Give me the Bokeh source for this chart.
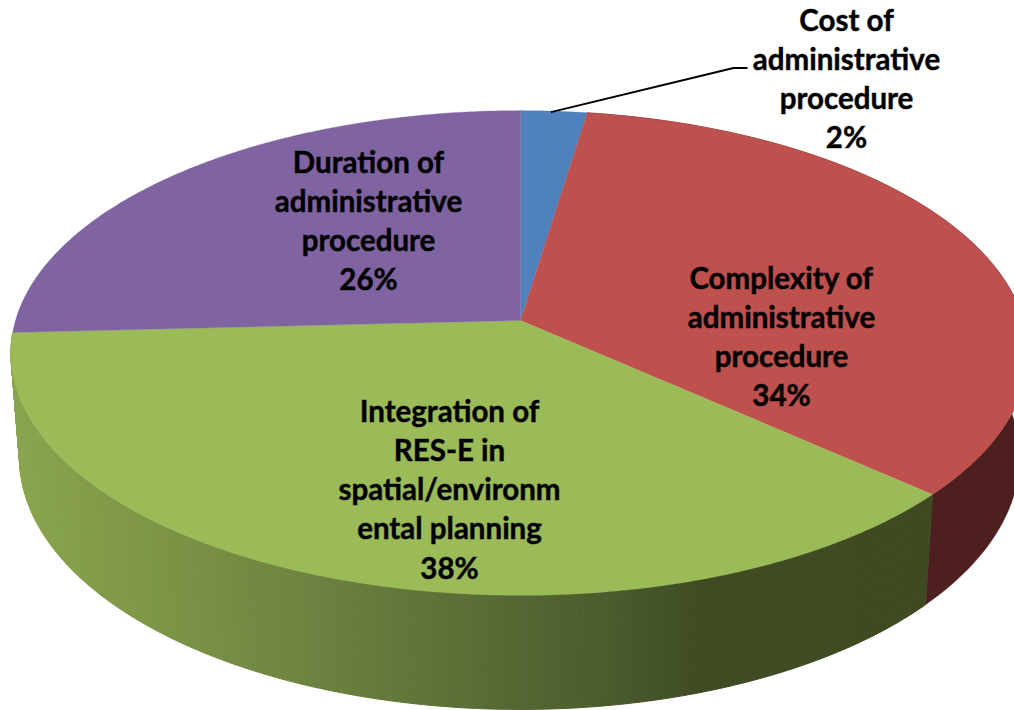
from bokeh.plotting import figure
from bokeh.models import Range1d
from bokeh.core.properties import value
from bokeh.embed import file_html
from bokeh.resources import INLINE
import numpy as np

# slice shares (geometry), and their printed labels
categories = ["Cost", "Complexity", "Integration", "Duration"]
shares = [2.4, 34.2, 37.6, 25.8]
top_colors = ["#4f81bd", "#be504d", "#9bbb59", "#8064a2"]
label_lines = [
    ["Cost of", "administrative", "procedure", "2%"],
    ["Complexity of", "administrative", "procedure", "34%"],
    ["Integration of", "RES-E in", "spatial/environm", "ental planning", "38%"],
    ["Duration of", "administrative", "procedure", "26%"],
]
label_x = [846, 781, 449, 368]
label_y0 = [18.5, 276.5, 409.5, 160.5]
line_gap = 39.3

# side-wall shading of the green slice: horizontal position -> colour
grad_x = [20, 150, 300, 500, 620, 700, 1014]
grad_r = [0x8a, 0x7e, 0x6f, 0x57, 0x4a, 0x40, 0x3f]
grad_g = [0xa4, 0x96, 0x84, 0x6a, 0x5a, 0x4c, 0x4a]
grad_b = [0x4e, 0x47, 0x41, 0x35, 0x2c, 0x24, 0x23]
red_side = "#4d1f1f"

# projection of the pie
CX, CY = 520.0, 320.0
A_L, A_R, B, C = 505.0, 503.0, 238.0, 0.134
SHRINK, D0, D1 = 0.983, 103.4, 0.039


def rim(theta):
    u, v = np.sin(theta), np.cos(theta)
    d = 1 + C * v
    a = np.where(u < 0, A_L, A_R)
    return CX + a * u / d, CY - B * v / d


def lower(x, y):
    return CX + (x - CX) * SHRINK, y + D0 + D1 * (y - CY)


fracs = np.cumsum([0] + shares) / sum(shares)
angles = fracs * 2 * np.pi

p = figure(width=1014, height=710, x_range=Range1d(0, 1014), y_range=Range1d(710, 0),
           toolbar_location=None, output_backend="svg", min_border=0,
           outline_line_color=None)
p.axis.visible = False
p.grid.visible = False
p.background_fill_color = "white"
p.border_fill_color = "white"

# side wall: complexity slice
t = np.linspace(angles[1], angles[2], 100)
x, y = rim(t)
xb, yb = lower(x, y)
p.patch(np.r_[x, xb[::-1]], np.r_[y, yb[::-1]], fill_color=red_side, line_color=red_side, line_width=0.5)

# side wall: integration slice, shaded in strips
t = np.linspace(angles[2], angles[3], 220)
x, y = rim(t)
xb, yb = lower(x, y)
xs, ys, cols = [], [], []
for i in range(len(t) - 1):
    mx = (x[i] + x[i + 1]) / 2
    c = "#%02x%02x%02x" % (int(np.interp(mx, grad_x, grad_r)),
                           int(np.interp(mx, grad_x, grad_g)),
                           int(np.interp(mx, grad_x, grad_b)))
    xs.append([x[i], x[i + 1], xb[i + 1], xb[i]])
    ys.append([y[i], y[i + 1], yb[i + 1], yb[i]])
    cols.append(c)
p.patches(xs, ys, fill_color=cols, line_color=cols, line_width=1)

# top face
for i, col in enumerate(top_colors):
    t = np.linspace(angles[i], angles[i + 1], 200)
    x, y = rim(t)
    p.patch(np.r_[CX, x], np.r_[CY, y], fill_color=col, line_color=col, line_width=0.3)

# leader line of the first slice
mid = (angles[0] + angles[1]) / 2
lx, ly = rim(mid)
p.line([lx - 3, 733, 747], [ly + 1, 67.5, 67.5], line_color="black", line_width=2)

# labels
tx, ty, ts = [], [], []
for lines, cx, y0 in zip(label_lines, label_x, label_y0):
    for j, s in enumerate(lines):
        tx.append(cx)
        ty.append(y0 + j * line_gap)
        ts.append(s)
p.text(tx, ty, text=ts, text_font=value("Lato"), text_font_style="bold",
       text_font_size="29.5px", text_align="center", text_baseline="middle", text_color="black",
       text_outline_color="rgba(0,0,0,0.45)")

open("out.html", "w").write(file_html(p, INLINE))
